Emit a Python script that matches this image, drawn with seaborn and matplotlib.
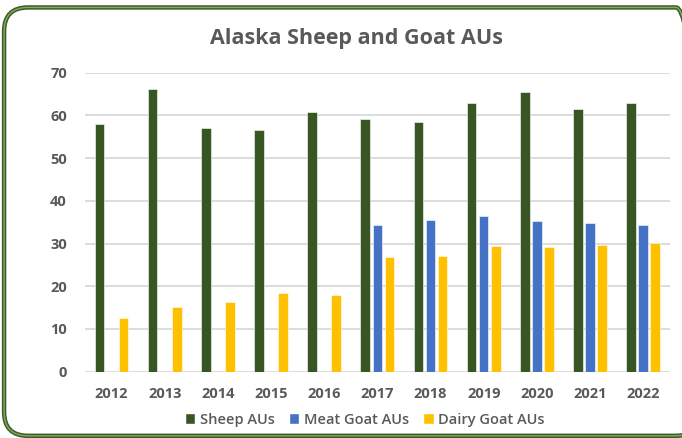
import matplotlib
matplotlib.use("Agg")
import matplotlib.pyplot as plt
from matplotlib.patches import FancyBboxPatch, Patch
import seaborn as sns
import pandas as pd
import numpy as np

years = ["2012", "2013", "2014", "2015", "2016", "2017", "2018", "2019", "2020", "2021", "2022"]
sheep = [58.0, 66.3, 57.0, 56.6, 60.9, 59.2, 58.5, 63.0, 65.5, 61.5, 62.8]
meat_goat = [np.nan, np.nan, np.nan, np.nan, np.nan, 34.3, 35.4, 36.5, 35.2, 34.8, 34.3]
dairy_goat = [12.6, 15.1, 16.2, 18.4, 17.9, 26.9, 27.2, 29.4, 29.2, 29.7, 30.1]
series = ["Sheep AUs", "Meat Goat AUs", "Dairy Goat AUs"]
colors = ["#375623", "#4472C4", "#FFC000"]

df = pd.DataFrame({"Year": years, series[0]: sheep, series[1]: meat_goat, series[2]: dairy_goat})
long = df.melt(id_vars="Year", var_name="Series", value_name="AUs")

sns.set_style("white")
plt.rcParams["font.family"] = ["Open Sans", "DejaVu Sans"]
grey = "#595959"

fig = plt.figure(figsize=(6.82, 4.38), dpi=100)
ax = fig.add_axes([0.1246, 0.1514, 0.8574, 0.6826])

sns.barplot(data=long, x="Year", y="AUs", hue="Series", hue_order=series,
            palette=colors, saturation=1, width=0.68, gap=0.2, ax=ax, legend=False,
            edgecolor="white", linewidth=0.4, zorder=3)

ax.set_ylim(0, 70)
ax.set_xlim(-0.5, len(years) - 0.5)
ax.set_yticks(range(0, 71, 10))
ax.yaxis.grid(True, color="#d9d9d9", linewidth=1.3, zorder=0)
ax.set_axisbelow(True)
for s in ax.spines.values():
    s.set_visible(False)
ax.set_xlabel("")
ax.set_ylabel("")
ax.tick_params(axis="both", length=0, labelsize=10.5, labelcolor=grey)
ax.tick_params(axis="x", pad=11)
ax.tick_params(axis="y", pad=13)
for lbl in ax.get_xticklabels() + ax.get_yticklabels():
    lbl.set_fontweight("bold")

fig.text(0.522, 0.912, "Alaska Sheep and Goat AUs", ha="center", va="center",
         fontsize=15.5, fontweight="bold", color=grey)

handles = [Patch(facecolor=c, label=s) for c, s in zip(colors, series)]
fig.legend(handles=handles, loc="center", bbox_to_anchor=(0.535, 0.042), ncol=3,
           frameon=False, labelcolor=grey, handlelength=0.7,
           handleheight=0.7, handletextpad=0.3, columnspacing=1.0,
           prop={"weight": "semibold", "size": 10.5})

# rounded green chart frame (outer dark line with a lighter inner line)
for lw, col in [(3.2, "#3b5e24"), (1.0, "#86a86a")]:
    border = FancyBboxPatch((0.006, 0.005), 1.02, 0.978, transform=fig.transFigure,
                            boxstyle="round,pad=0,rounding_size=0.035",
                            facecolor="none", edgecolor=col, linewidth=lw,
                            mutation_aspect=682 / 438, clip_on=False)
    fig.patches.append(border)

fig.savefig("out.png", dpi=100)
